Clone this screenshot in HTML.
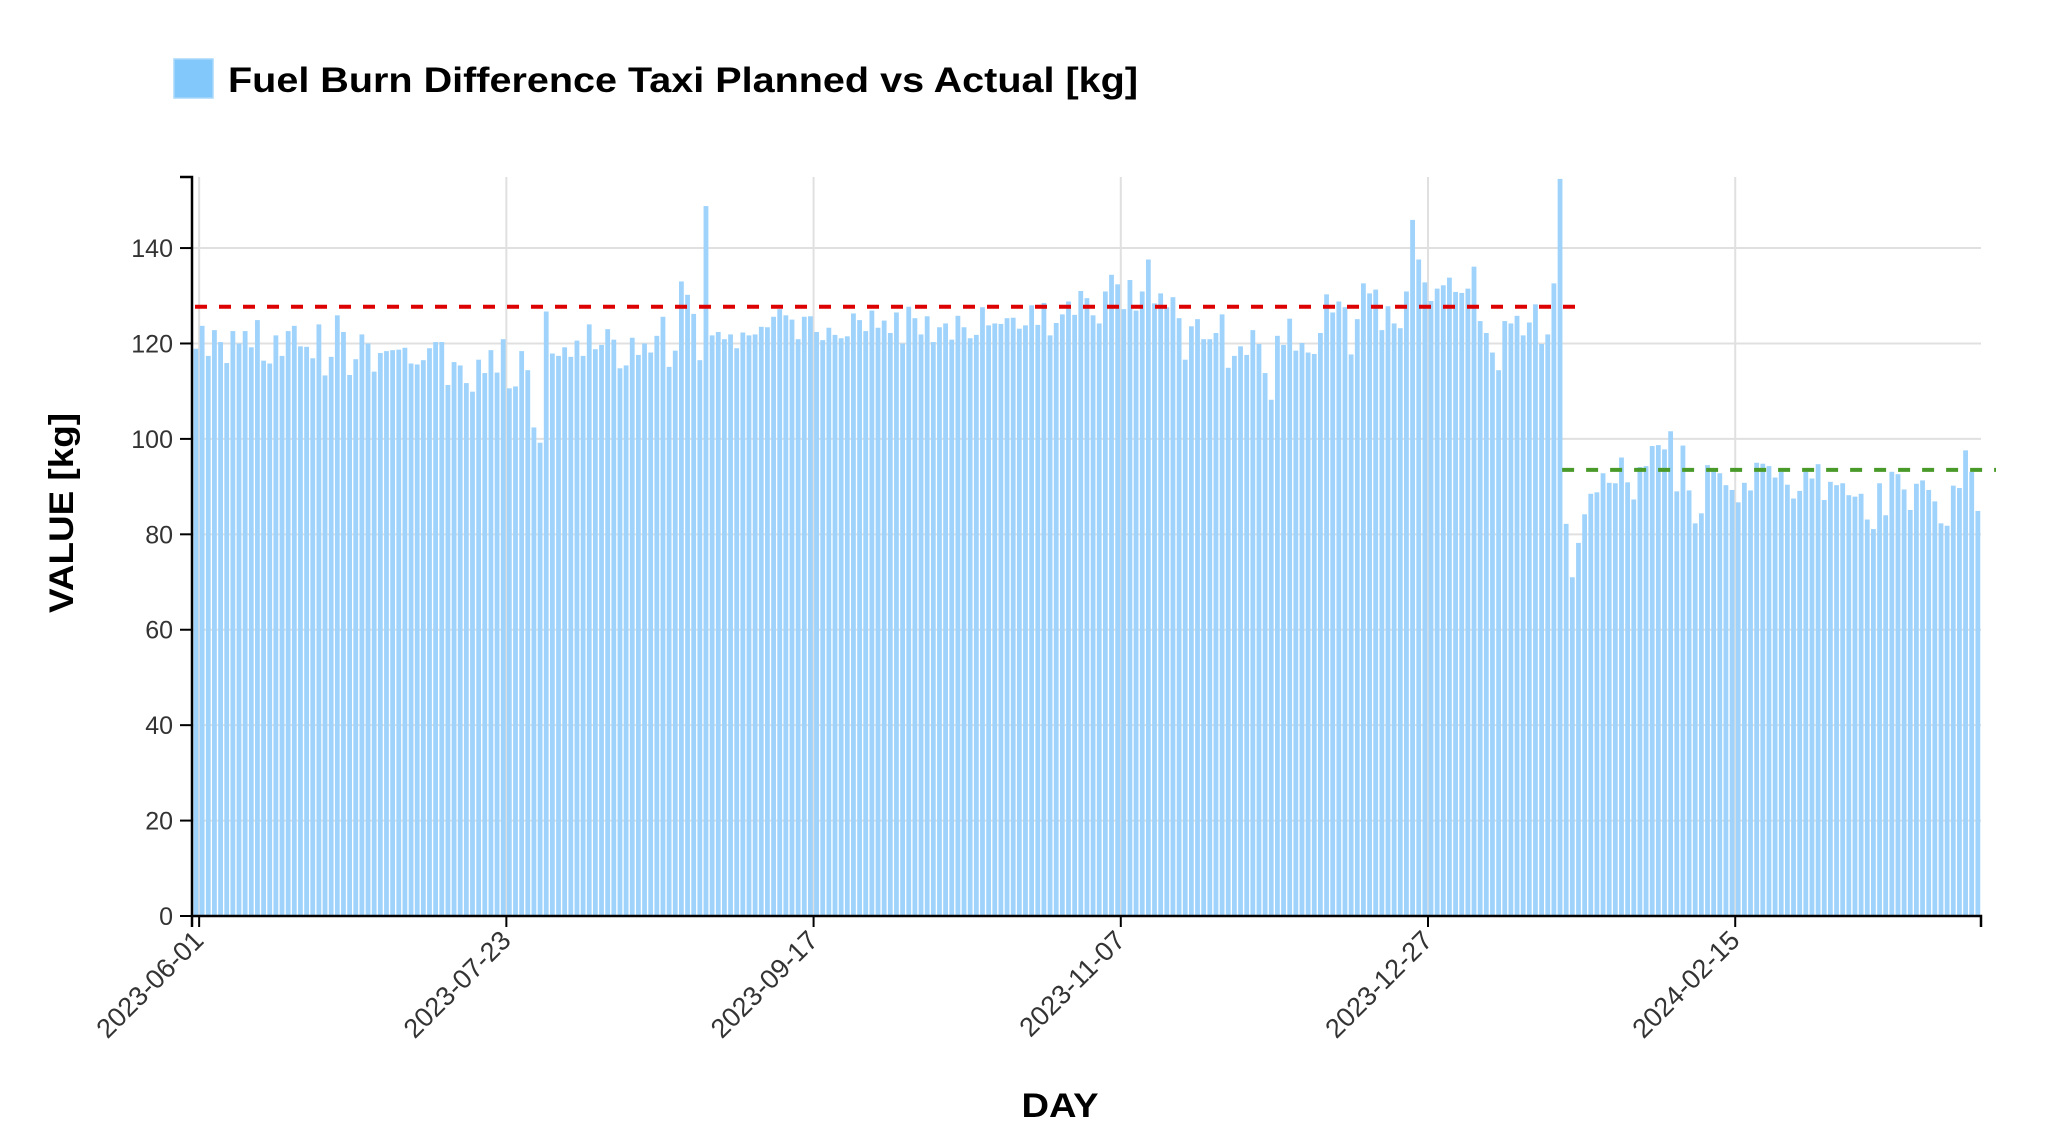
<!DOCTYPE html>
<html><head><meta charset="utf-8"><style>
html,body{margin:0;padding:0;background:#fff;}
svg{display:block;font-family:"Liberation Sans",sans-serif;}
</style></head><body>
<svg id="chart" width="2048" height="1142" viewBox="0 0 2048 1142">
<rect x="174" y="59" width="39" height="39" fill="#82c8fb" stroke="#a8d8fc" stroke-width="1.5"/>
<text x="228" y="92" font-size="35" font-weight="bold" fill="#000" textLength="910" lengthAdjust="spacingAndGlyphs">Fuel Burn Difference Taxi Planned vs Actual [kg]</text>
<g id="grid"></g><g id="bars"></g><g id="lines"></g><g id="axes"></g>
<text x="1060" y="1117" font-size="34" font-weight="bold" text-anchor="middle" textLength="77" lengthAdjust="spacingAndGlyphs">DAY</text>
<text transform="translate(73,513) rotate(-90)" font-size="34" font-weight="bold" text-anchor="middle" textLength="200" lengthAdjust="spacingAndGlyphs">VALUE [kg]</text>
</svg>
<script>
const values = [118.9,123.7,117.4,122.8,120.3,115.9,122.6,120,122.6,119.2,124.9,116.4,115.8,121.7,117.4,122.6,123.7,119.4,119.3,116.9,124.0,113.3,117.2,125.9,122.4,113.4,116.7,121.9,120,114.1,118,118.4,118.6,118.7,119.1,115.8,115.6,116.5,119,
120.3,120.3,111.3,116.1,115.4,111.7,109.9,116.6,113.8,118.6,113.9,120.9,110.6,111.0,118.4,114.4,102.4,99.2,126.7,117.9,117.4,119.2,117.2,120.6,117.4,124.0,118.8,119.7,123,120.8,114.8,115.4,121.2,117.6,120,118.1,121.6,
125.6,115.1,118.5,133.0,130.2,126.2,116.5,148.8,121.7,122.4,120.9,121.9,119,122.3,121.7,121.9,123.5,123.4,125.6,127.2,125.9,125,120.9,125.6,125.7,122.4,120.7,123.3,121.8,121.1,121.5,126.3,124.9,122.6,126.9,123.3,124.8,
122.2,126.5,120,127.7,125.3,121.9,125.7,120.3,123.4,124.2,120.8,125.8,123.4,121.1,121.8,127.6,123.8,124.2,124.1,125.3,125.4,123.1,123.8,128,123.9,128.5,121.7,124.3,126.1,128.8,126.0,131.0,129.5,125.9,124.2,130.9,134.4,132.4,
127.2,133.3,126.9,130.9,137.6,128.4,130.5,127.6,129.7,125.3,116.6,123.6,125.1,120.9,120.9,122.2,126.1,114.9,117.4,119.4,117.6,122.8,119.9,113.8,108.2,121.6,119.7,125.2,118.5,120.1,118.1,117.8,122.2,130.3,126.5,128.8,127.6,
117.7,125.1,132.6,130.5,131.3,122.8,127.8,124.2,123.2,130.9,145.9,137.6,132.8,128.9,131.5,132.2,133.8,130.8,130.6,131.5,136.1,124.7,122.2,118.1,114.4,124.7,124.2,125.8,121.7,124.4,128.2,119.9,121.9,132.6,154.5,
82.2,71.0,78.2,84.2,88.5,88.8,92.8,90.8,90.7,96.1,90.9,87.3,94.1,94.3,98.5,98.7,97.8,101.6,89.0,98.6,89.2,82.3,84.4,94.5,93.8,92.8,90.3,89.3,86.7,90.8,89.2,95.0,94.8,94.3,91.9,93.1,90.4,87.5,89.1,93.1,
91.7,94.7,87.2,91.0,90.3,90.7,88.2,87.9,88.5,83.1,81.1,90.7,84.0,93.1,92.6,89.4,85.1,90.6,91.3,89.3,86.9,82.3,81.8,90.2,89.7,97.6,93.1,84.9];
const tickIndices = [1,51,101,151,201,251];
const tickLabels = ["2023-06-01","2023-07-23","2023-09-17","2023-11-07","2023-12-27","2024-02-15"];
const yTicks = [0,20,40,60,80,100,120,140];
const meanBefore = 127.7;
const meanAfter = 93.5;
const splitIndex = 223;

const NS="http://www.w3.org/2000/svg";
const X0=193, X1=1981, Y0=916, YTOP=177, PXU=4.771;
const step=(X1-X0)/values.length;
function xs(i){return X0+i*step;}
function xc(i){return xs(i)+step/2;}
function ys(v){return Y0-v*PXU;}
function mk(tag,attrs,parent){const e=document.createElementNS(NS,tag);for(const k in attrs)e.setAttribute(k,attrs[k]);parent.appendChild(e);return e;}
const grid=document.getElementById('grid'),bars=document.getElementById('bars'),lines=document.getElementById('lines'),axes=document.getElementById('axes');
yTicks.forEach(t=>{
  const g=mk('line',{x1:X0,x2:X1,y1:ys(t),y2:ys(t),stroke:'#e0e0e0','stroke-width':2},grid);
  
  
  const tk=mk('line',{x1:180,x2:192,y1:ys(t),y2:ys(t),stroke:'#000','stroke-width':2},axes);
  
  
  const lb=mk('text',{x:173,y:ys(t)+9,'font-size':25,'text-anchor':'end',fill:'#333'},axes);
  lb.textContent=t;
  
  
});
tickIndices.forEach((idx,k)=>{
  const x=xs(idx);
  const g=mk('line',{x1:x,x2:x,y1:YTOP,y2:Y0,stroke:'#e0e0e0','stroke-width':2},grid);
  
  
  const tk=mk('line',{x1:x,x2:x,y1:Y0,y2:Y0+11,stroke:'#000','stroke-width':2},axes);
  
  
  const lb=mk('text',{transform:`translate(${x+6},${Y0+26}) rotate(-45)`,'font-size':27,'text-anchor':'end',fill:'#333'},axes);
  lb.textContent=tickLabels[k];
  
  
});
values.forEach((v,i)=>{
  const b=mk('rect',{x:xs(i)+0.6,y:ys(v),width:step*0.78,height:Y0-ys(v),fill:'#9fd3fb'},bars);
  
  
});
const r=mk('line',{x1:X0+2,x2:xs(splitIndex+1)+8,y1:ys(meanBefore),y2:ys(meanBefore),stroke:'#dd0000','stroke-width':4,'stroke-dasharray':'12 12'},lines);


const gr=mk('line',{x1:xc(splitIndex-1)+2,x2:X1+15,y1:ys(meanAfter),y2:ys(meanAfter),stroke:'#4a9a2a','stroke-width':4,'stroke-dasharray':'12 12'},lines);


const ya=mk('path',{d:`M180 ${YTOP} H192 V${Y0}`,stroke:'#000','stroke-width':2.5,fill:'none'},axes);


const xa=mk('path',{d:`M192 ${Y0+11} V${Y0} H${X1} V${Y0+11}`,stroke:'#000','stroke-width':2.5,fill:'none'},axes);


</script>
</body></html>
